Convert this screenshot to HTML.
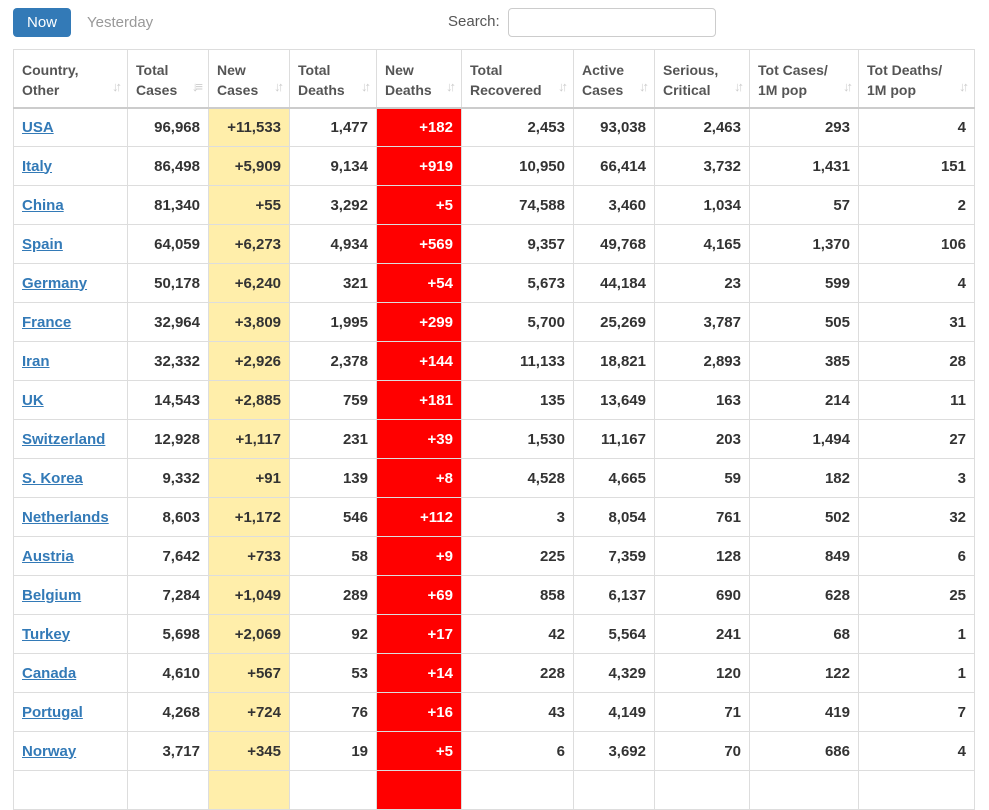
<!DOCTYPE html>
<html><head><meta charset="utf-8"><style>
body{margin:0;background:#fff;font-family:"Liberation Sans",Arial,sans-serif;color:#333;width:989px;height:776px;overflow:hidden;position:relative}
#btn-now{position:absolute;left:13px;top:8px;width:58px;height:29px;background:#337ab7;color:#fff;border-radius:4px;font-size:15px;line-height:29px;text-align:center}
#btn-yest{position:absolute;left:87px;top:8px;color:#999;font-size:15px;line-height:29px}
#search-label{position:absolute;left:448px;top:8px;font-size:15px;line-height:27px;color:#555}
#search{position:absolute;left:508px;top:8px;width:206px;height:27px;border:1px solid #ccc;border-radius:4px}
table{position:absolute;left:13px;top:49px;border-collapse:collapse;table-layout:fixed;width:961px}
th,td{border:1px solid #ddd;padding:0 8px;box-sizing:border-box}
th{height:58px;text-align:left;font-size:14px;color:#555;vertical-align:top;padding-top:10px;line-height:20px;position:relative;border-bottom:2px solid #ccc}
th .s{position:absolute;right:8px;bottom:10px;color:#ccc;font-size:13px;letter-spacing:-3px}
td{height:39px;font-size:15px;font-weight:bold;text-align:right}
td.c{text-align:left}
td.c a{color:#337ab7;text-decoration:underline}
td.y{background:#FFEEAA}
td.r{background:#f00;color:#fff}
</style></head><body>
<div id="btn-now">Now</div>
<div id="btn-yest">Yesterday</div>
<div id="search-label">Search:</div>
<div id="search"></div>
<table>
<colgroup><col style="width:114px"><col style="width:81px"><col style="width:81px"><col style="width:87px"><col style="width:85px"><col style="width:112px"><col style="width:81px"><col style="width:95px"><col style="width:109px"><col style="width:116px"></colgroup>
<thead><tr id="hdr"></tr></thead>
<tbody id="body"></tbody>
</table>
<script>
const headers=["Country,<br>Other","Total<br>Cases","New<br>Cases","Total<br>Deaths","New<br>Deaths","Total<br>Recovered","Active<br>Cases","Serious,<br>Critical","Tot Cases/<br>1M pop","Tot Deaths/<br>1M pop"];
const countries=["USA","Italy","China","Spain","Germany","France","Iran","UK","Switzerland","S. Korea","Netherlands","Austria","Belgium","Turkey","Canada","Portugal","Norway"];
const totalCases=["96,968","86,498","81,340","64,059","50,178","32,964","32,332","14,543","12,928","9,332","8,603","7,642","7,284","5,698","4,610","4,268","3,717"];
const newCases=["+11,533","+5,909","+55","+6,273","+6,240","+3,809","+2,926","+2,885","+1,117","+91","+1,172","+733","+1,049","+2,069","+567","+724","+345"];
const totalDeaths=["1,477","9,134","3,292","4,934","321","1,995","2,378","759","231","139","546","58","289","92","53","76","19"];
const newDeaths=["+182","+919","+5","+569","+54","+299","+144","+181","+39","+8","+112","+9","+69","+17","+14","+16","+5"];
const recovered=["2,453","10,950","74,588","9,357","5,673","5,700","11,133","135","1,530","4,528","3","225","858","42","228","43","6"];
const active=["93,038","66,414","3,460","49,768","44,184","25,269","18,821","13,649","11,167","4,665","8,054","7,359","6,137","5,564","4,329","4,149","3,692"];
const serious=["2,463","3,732","1,034","4,165","23","3,787","2,893","163","203","59","761","128","690","241","120","71","70"];
const casesPerM=["293","1,431","57","1,370","599","505","385","214","1,494","182","502","849","628","68","122","419","686"];
const deathsPerM=["4","151","2","106","4","31","28","11","27","3","32","6","25","1","1","7","4"];
const hdr=document.getElementById('hdr');
headers.forEach((h,i)=>{const th=document.createElement('th');


th.innerHTML=h+'<span class="s">'+(i==1?'↓≡':'↓↑')+'</span>';hdr.appendChild(th);});
const body=document.getElementById('body');
const cols=[totalCases,newCases,totalDeaths,newDeaths,recovered,active,serious,casesPerM,deathsPerM];
const rowsAll=countries.concat([""]);
rowsAll.forEach((c,r)=>{const tr=document.createElement('tr');


const td0=document.createElement('td');td0.className='c';


if(c){const a=document.createElement('a');a.textContent=c;

td0.appendChild(a);}
tr.appendChild(td0);
cols.forEach((arr,i)=>{const td=document.createElement('td');


if(i==1)td.className='y';if(i==3)td.className='r';
td.textContent=c?arr[r]:'';tr.appendChild(td);});
body.appendChild(tr);});
</script>
</body></html>
